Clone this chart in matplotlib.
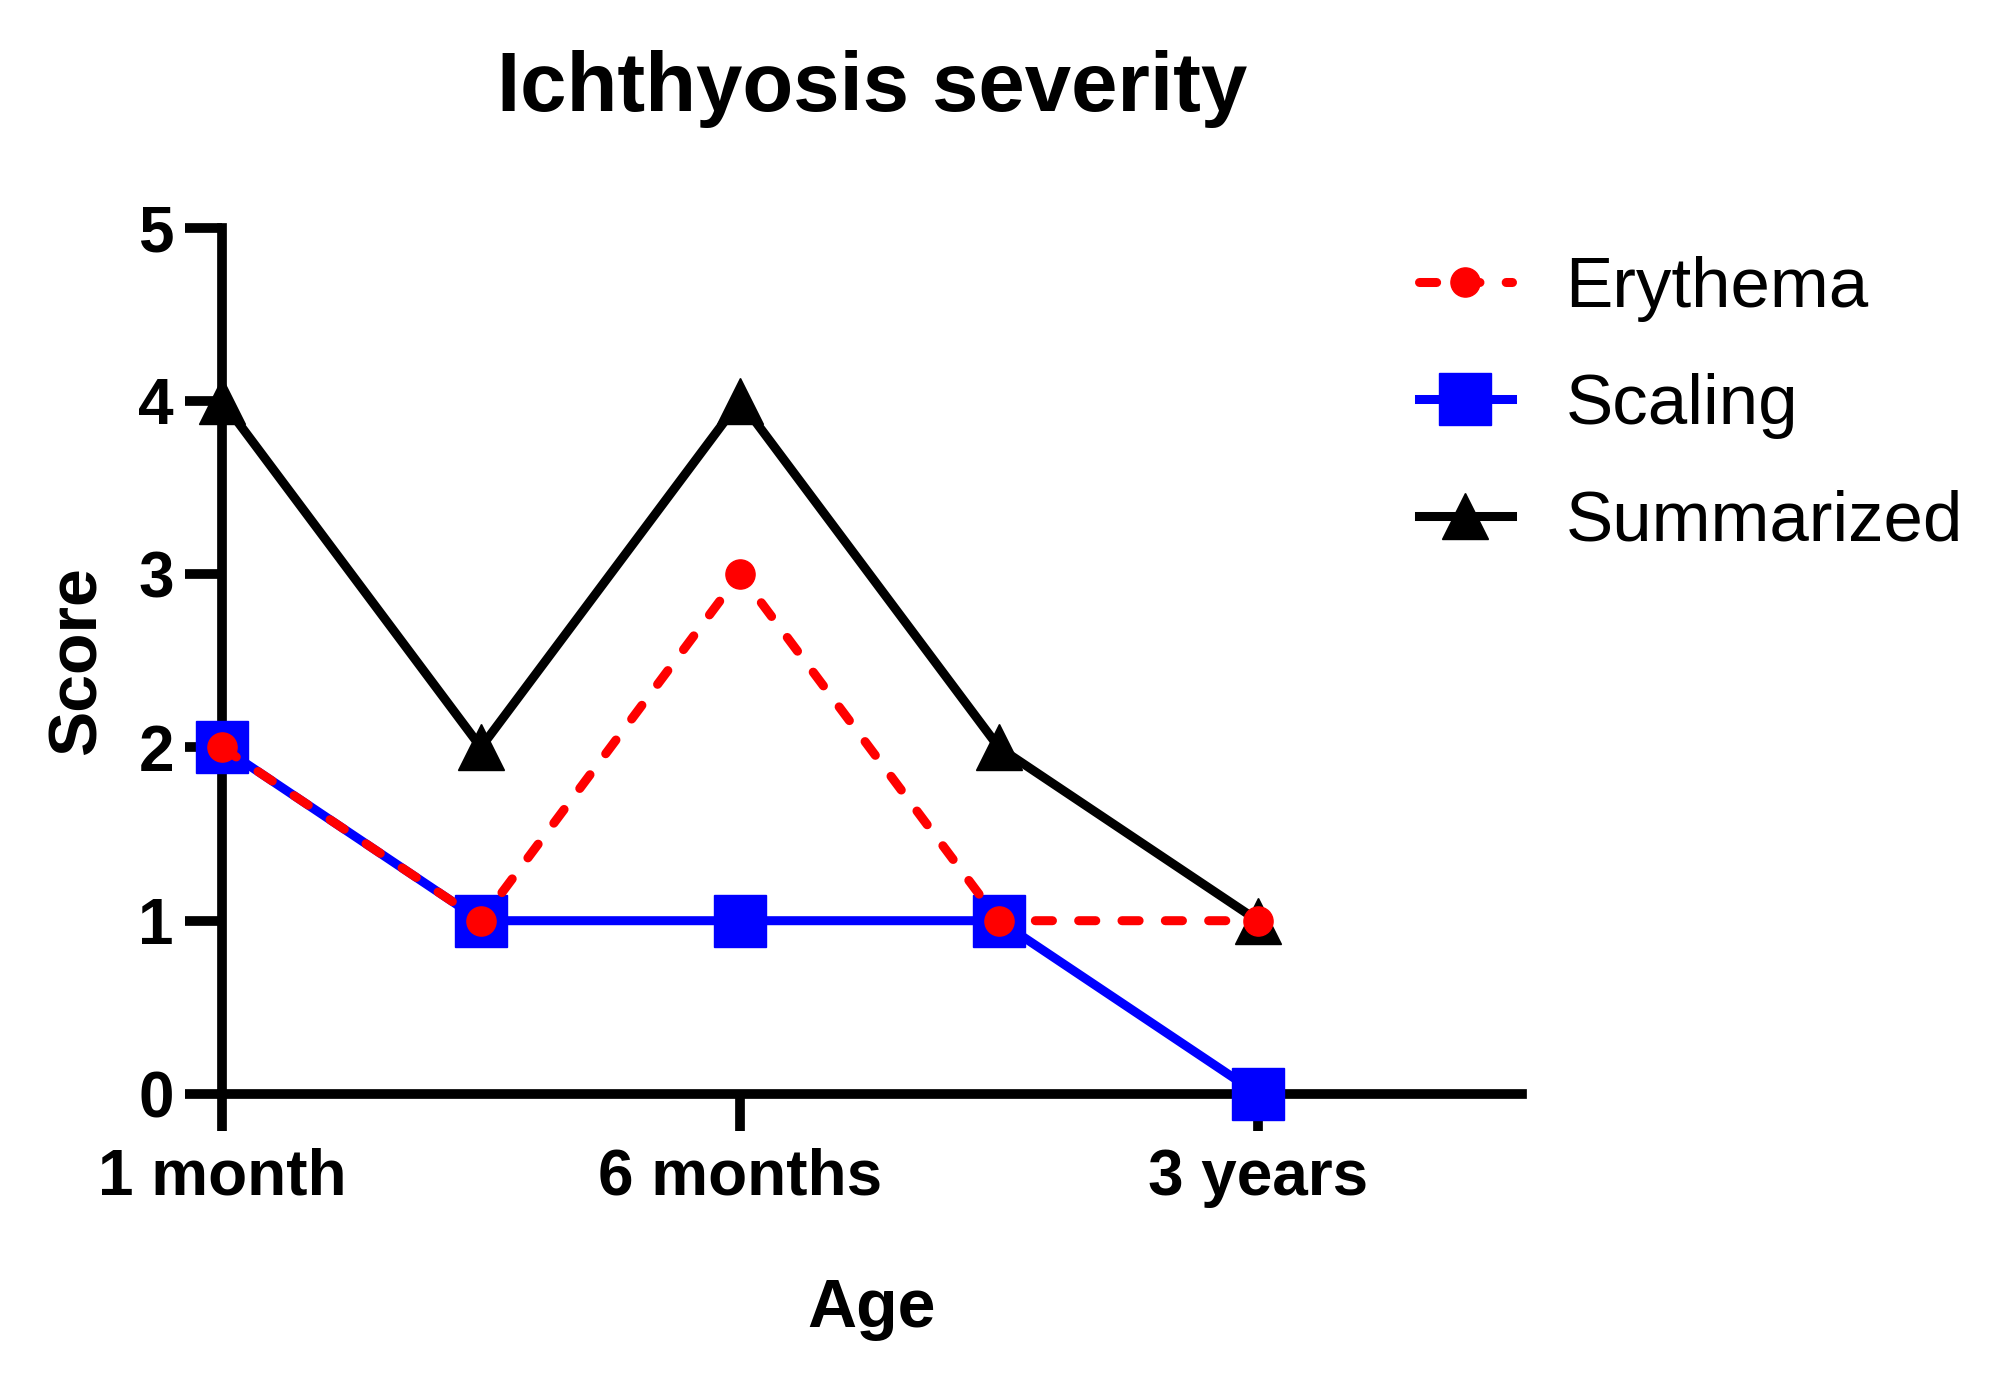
import matplotlib
matplotlib.use('Agg')
import matplotlib.pyplot as plt

# Datos del gráfico
ages = ['1 month', '', '6 months', '', '3 years']
erythema = [2, 1, 3, 1, 1]
scaling = [2, 1, 1, 1, 0]
summarized = [4, 2, 4, 2, 1]

plt.rcParams['font.family'] = ['Liberation Sans', 'DejaVu Sans']

W, H = 2015, 1397
fig = plt.figure(figsize=(W / 100, H / 100), dpi=100)
ax = fig.add_axes([222 / W, 1 - 1094 / H, 1300 / W, (1094 - 227.5) / H])

x = list(range(len(ages)))
lw = 6.5

ax.plot(x, summarized, color='black', lw=lw, marker='^', markersize=33,
        label='Summarized', clip_on=False, zorder=3)
ax.plot(x, scaling, color='#0000ff', lw=lw, marker='s', markersize=38,
        label='Scaling', clip_on=False, zorder=4)
ax.plot(x, erythema, color='#ff0000', lw=lw, marker='o', markersize=21,
        linestyle=(0, (1.9, 2.9)), dash_capstyle='round',
        label='Erythema', clip_on=False, zorder=5)

ax.set_xlim(0, 5.02)
ax.set_ylim(0, 5)
ax.set_xticks([0, 2, 4])
ax.set_xticklabels(['1 month', '6 months', '3 years'])
ax.set_yticks([0, 1, 2, 3, 4, 5])

for s in ['top', 'right']:
    ax.spines[s].set_visible(False)
for s in ['left', 'bottom']:
    ax.spines[s].set_linewidth(7)

ax.tick_params(axis='both', length=26.6, width=7, labelsize=46, pad=8)
ax.tick_params(axis='x', pad=12)
for lab in ax.get_xticklabels() + ax.get_yticklabels():
    lab.set_fontweight('bold')

ax.set_xlabel('Age', fontsize=49, fontweight='bold', labelpad=50)
ax.set_ylabel('Score', fontsize=49, fontweight='bold', labelpad=21)
ax.set_title('Ichthyosis severity', fontsize=60, fontweight='bold', pad=84)

handles, labels = ax.get_legend_handles_labels()
leg = fig.legend(handles[::-1], labels[::-1], loc='upper left',
                 bbox_to_anchor=(0.7042, 0.817), frameon=False, fontsize=51,
                 handlelength=1.31, handletextpad=0.76, labelspacing=0.72,
                 borderpad=0, borderaxespad=0)

fig.savefig('out.png', dpi=100)
